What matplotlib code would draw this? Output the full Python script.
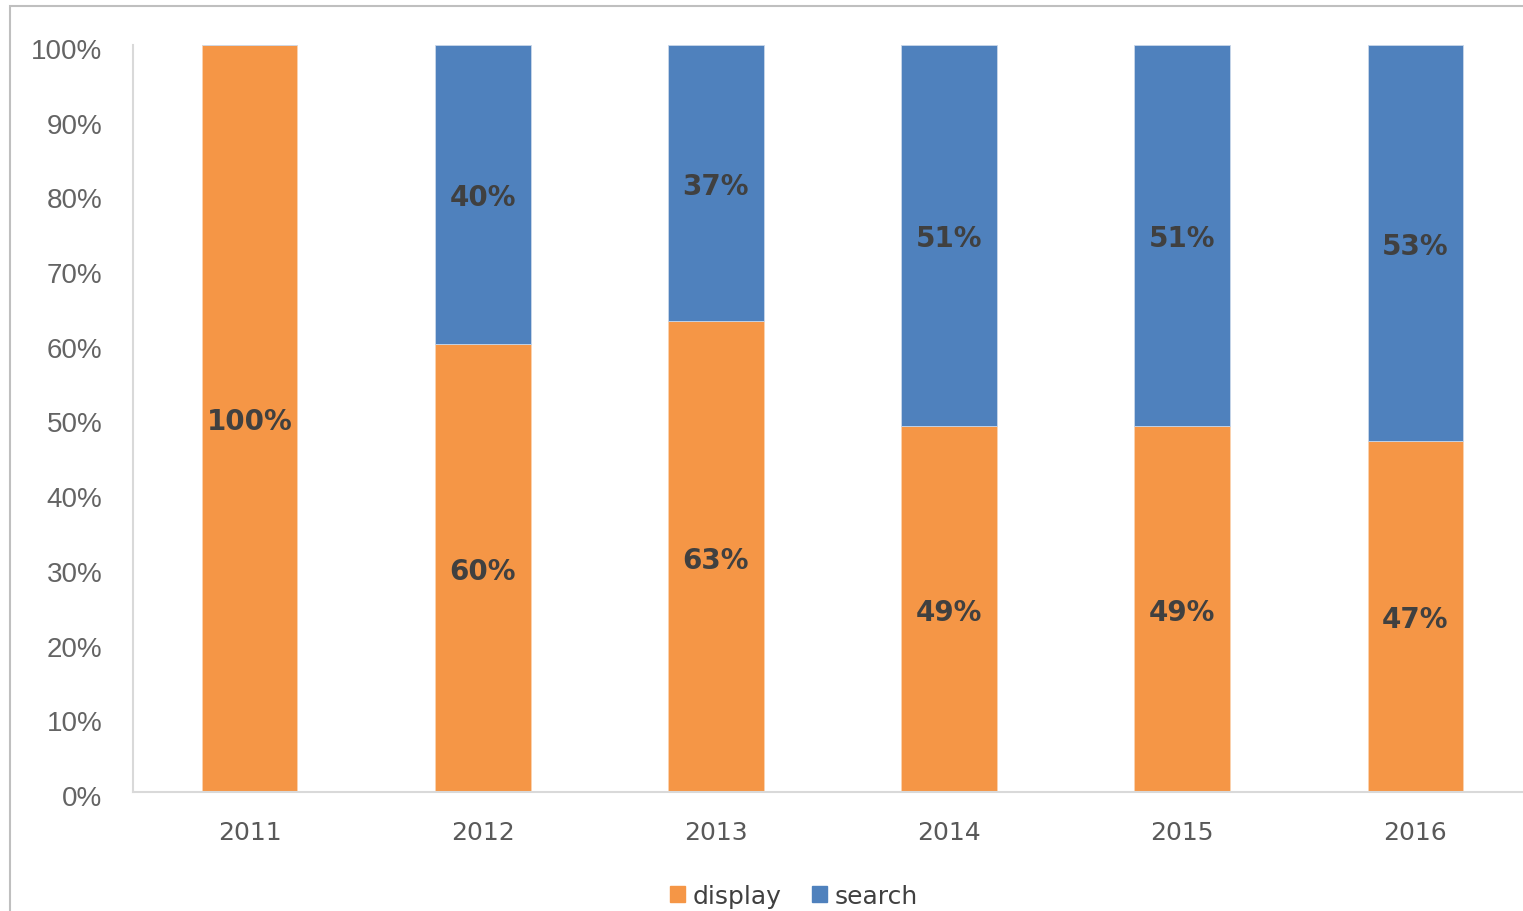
import matplotlib.pyplot as plt
import matplotlib.patches as mpatches
import matplotlib.transforms as mtransforms
import numpy as np

years = ['2011', '2012', '2013', '2014', '2015', '2016']
display = [100, 60, 63, 49, 49, 47]
search = [0, 40, 37, 51, 51, 53]

orange = '#F59646'
blue = '#4F81BD'

fig = plt.figure(figsize=(15.23, 9.12), dpi=100)
ax = fig.add_axes([133 / 1523, 1 - 793 / 912, (1532 - 133) / 1523, (793 - 46) / 912])

x = np.arange(len(years))
w = 0.41
ax.bar(x, display, w, color=orange, edgecolor='#FBD3B0', linewidth=0.6, label='display')
ax.bar(x, search, w, bottom=display, color=blue, edgecolor='#C9D7EA', linewidth=0.6, label='search')

# shift labels a few pixels down like the original
down = mtransforms.ScaledTranslation(0, -3 / 100, fig.dpi_scale_trans)

# data labels
for i in range(len(years)):
    ax.text(x[i], display[i] / 2, f'{display[i]}%', ha='center', va='center',
            fontsize=20, fontweight='bold', color='#404040', family='DejaVu Sans',
            transform=ax.transData + down)
    if search[i] > 0:
        ax.text(x[i], display[i] + search[i] / 2, f'{search[i]}%', ha='center', va='center',
                fontsize=20, fontweight='bold', color='#404040', family='DejaVu Sans',
                transform=ax.transData + down)

ax.set_xlim(-0.5, 5.5)
ax.set_ylim(0, 100)
ax.set_yticks(range(0, 101, 10))
ax.set_yticklabels([f'{v}%' for v in range(0, 101, 10)], fontsize=20,
                   color='#646464', family='Liberation Sans')
ax.set_xticks(x)
ax.set_xticklabels(years, fontsize=18, color='#595959', family='DejaVu Sans')
ax.tick_params(axis='y', length=0, pad=22)
ax.tick_params(axis='x', length=0, pad=20)
for lab in ax.get_yticklabels():
    lab.set_transform(lab.get_transform() + down)

for s in ['top', 'right']:
    ax.spines[s].set_visible(False)
for s in ['left', 'bottom']:
    ax.spines[s].set_color('#D9D9D9')
    ax.spines[s].set_linewidth(1.5)

handles = [mpatches.Patch(color=orange, label='display'),
           mpatches.Patch(color=blue, label='search')]
fig.legend(handles=handles, loc='center', bbox_to_anchor=(794 / 1523, 1 - 897 / 912),
           ncol=2, frameon=False, prop={'family': 'DejaVu Sans', 'size': 18},
           labelcolor='#404040', handlelength=0.6, handleheight=0.6,
           handletextpad=0.3, columnspacing=1.2)

# chart area border (extends past the image on right and bottom)
border = mpatches.Rectangle((10 / 1523, -0.1), 1.2, 1 - 7 / 912 + 0.1,
                            transform=fig.transFigure, fill=False,
                            edgecolor='#BFBFBF', linewidth=1.5)
fig.patches.append(border)

fig.savefig('out.png', dpi=100)
